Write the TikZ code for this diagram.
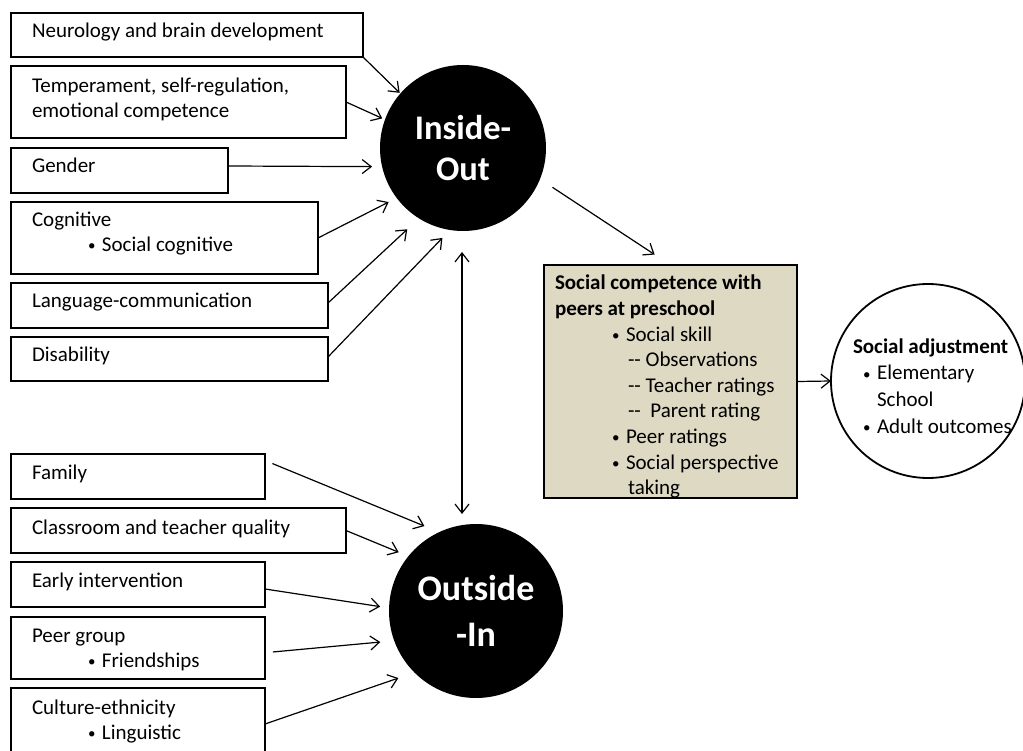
\documentclass[tikz,border=0pt]{standalone}
\usepackage{fontspec}
\setmainfont{Carlito}
\usetikzlibrary{arrows.meta,calc}
\definecolor{boxtan}{HTML}{DDD9C3}
\newcommand\bul{\makebox[14pt][l]{\raisebox{1pt}{\fontsize{15}{15}\selectfont•}}}
\newcommand\rows[2][24.5pt]{\vtop{\baselineskip=#1\relax\lineskiplimit=-100pt\lineskip=0pt #2}}
\begin{document}
\begin{tikzpicture}[x=1pt,y=-1pt,
  box/.style={draw=black,line width=1.8pt,fill=white,anchor=north west,inner sep=0pt,outer sep=0pt},
  txt/.style={anchor=base west,inner sep=0pt,outer sep=0pt,font=\fontsize{21}{24}\selectfont},
  arr/.style={line width=1.2pt,-{Straight Barb[length=9pt,width=14pt]}},
  blob/.style={circle,fill=black,inner sep=0pt,outer sep=0pt,text=white,align=center},
]
\useasboundingbox (0,0) rectangle (1023,751);

% left boxes (inside-out)
\node[box,minimum width=352pt,minimum height=44pt] (n1) at (11,13) {};
\node[box,minimum width=335pt,minimum height=72pt] (tmp) at (11,66) {};
\node[box,minimum width=217pt,minimum height=45pt] (gen) at (11,148) {};
\node[box,minimum width=307pt,minimum height=72pt] (cog) at (11,202) {};
\node[box,minimum width=317pt,minimum height=45pt] (lang) at (11,283) {};
\node[box,minimum width=317pt,minimum height=44pt] (dis) at (11,337) {};
% left boxes (outside-in)
\node[box,minimum width=254pt,minimum height=45pt] (fam) at (11,454) {};
\node[box,minimum width=335pt,minimum height=45pt] (cls) at (11,508) {};
\node[box,minimum width=254pt,minimum height=45pt] (ei) at (11,562) {};
\node[box,minimum width=254pt,minimum height=62pt] (pg) at (11,617) {};
\node[box,minimum width=254pt,minimum height=72pt] (cul) at (11,688) {};

% texts of left boxes
\node[txt] at (32,38) {Neurology and brain development};
\node[txt] at (32,93) {\rows{\hbox{Temperament, self-regulation,}\hbox{emotional competence}}};
\node[txt] at (32,173) {Gender};
\node[txt] at (32,227) {\rows[25pt]{\hbox{Cognitive}\hbox{\kern56pt\bul Social cognitive}}};
\node[txt] at (32,308) {Language-communication};
\node[txt] at (32,362) {Disability};
\node[txt] at (32,479) {Family};
\node[txt] at (32,534) {Classroom and teacher quality};
\node[txt] at (32,587) {Early intervention};
\node[txt] at (32,642) {\rows[25pt]{\hbox{Peer group}\hbox{\kern56pt\bul Friendships}}};
\node[txt] at (32,714) {\rows[25pt]{\hbox{Culture-ethnicity}\hbox{\kern56pt\bul Linguistic}}};

% circles
\node[blob,minimum size=166pt,font=\bfseries\fontsize{34.5}{41}\selectfont] (io) at (463,148) {Inside-\\Out};
\node[blob,minimum size=174pt,font=\bfseries\fontsize{36}{46}\selectfont] (oi) at (476,611) {Outside\\-In};

% social competence box
\node[box,fill=boxtan,minimum width=253pt,minimum height=233pt] (sc) at (544,265) {};
\begin{scope}
\clip (sc.north west) rectangle (sc.south east);
\node[txt] at (555,290) {\rows[25.6pt]{%
  \hbox{\bfseries Social competence with}%
  \hbox{\bfseries peers at preschool}%
  \hbox{\kern57pt\bul Social skill}%
  \hbox{\kern73pt -\kern0pt- Observations}%
  \hbox{\kern73pt -\kern0pt- Teacher ratings}%
  \hbox{\kern73pt -\kern0pt-\ \ Parent rating}%
  \hbox{\kern57pt\bul Peer ratings}%
  \hbox{\kern57pt\bul Social perspective}%
  \hbox{\kern73pt taking}}};
\end{scope}
\draw[line width=1.8pt] (sc.north west) rectangle (sc.south east);

% social adjustment circle
\node[circle,draw=black,line width=1.8pt,fill=white,minimum size=194pt,inner sep=0pt,outer sep=0pt] (sa) at (928,381) {};
\node[txt] at (853,353) {\rows[27pt]{%
  \hbox{\bfseries Social adjustment}%
  \hbox{\kern10pt\bul Elementary}%
  \hbox{\kern24pt School}%
  \hbox{\kern10pt\bul Adult outcomes}}};

% arrows into Inside-Out
\draw[arr,shorten >=1pt] (n1.south east) -- (io.139);
\draw[arr,shorten >=3pt] (tmp.east) -- (io.160);
\draw[arr,shorten >=10pt] ([yshift=4.5pt]gen.east) -- (io.193);
\draw[arr,shorten >=9pt] (cog.east) -- (io.217);
\draw[arr,shorten >=16pt] ([yshift=2.5pt]lang.east) -- (io.238);
\draw[arr,shorten >=11pt] ([yshift=2pt]dis.east) -- (io.261);

% arrows into Outside-In
\draw[arr,shorten <=8pt,shorten >=16pt] ([yshift=16pt]fam.east) -- (oi.115);
\draw[arr,shorten >=10.5pt] (cls.east) -- (oi.141);
\draw[arr,shorten >=9pt] ([yshift=-4.5pt]ei.east) -- (oi.178);
\draw[arr,shorten <=8pt,shorten >=14pt] ([yshift=-4.7pt]pg.east) -- (oi.200);
\draw[arr,shorten >=17pt] (cul.east) -- (oi.225);

% double arrow between circles
\draw[line width=1.2pt,{Straight Barb[length=9pt,width=14pt]}-{Straight Barb[length=9pt,width=14pt]},shorten <=21pt,shorten >=10pt] ([xshift=-1pt]io.south) -- ([xshift=-1pt]io.south |- oi.north);

% outputs
\draw[arr,shorten <=15pt,shorten >=19pt] (io.-22) -- (sc.north);
\draw[arr] (sc.east) -- (sa.west);
\end{tikzpicture}
\end{document}
